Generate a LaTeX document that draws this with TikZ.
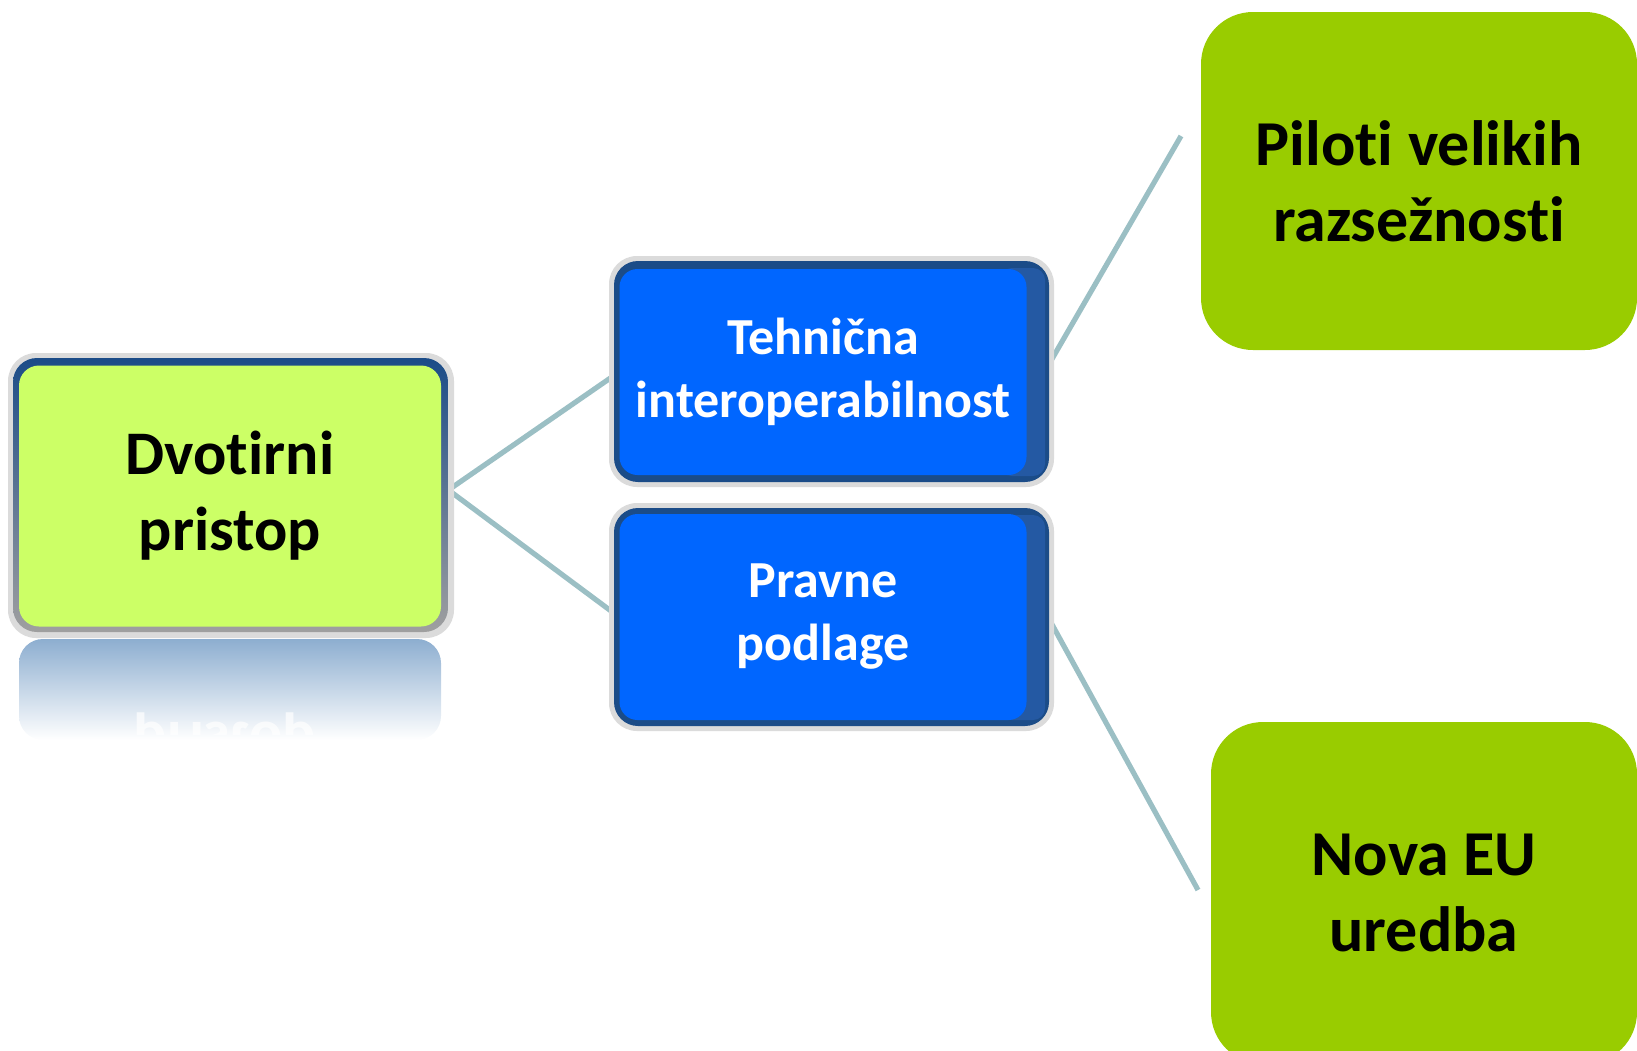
\documentclass[tikz,border=0pt]{standalone}
\usepackage{fontspec}
\setmainfont{Carlito}[Ligatures=NoCommon]
\usetikzlibrary{backgrounds}

\definecolor{limefill}{HTML}{CCFF66}
\definecolor{bluefill}{HTML}{0066FF}
\definecolor{navyframe}{HTML}{1B4C88}
\definecolor{blueband}{HTML}{2459A3}
\definecolor{greenfill}{HTML}{99CC00}
\definecolor{linegray}{HTML}{9BBFC4}
\definecolor{reflectblue}{HTML}{8DAED0}

\tikzset{
  conn/.style={line width=2.6pt, color=linegray},
  leftbox/.style={fill=limefill, rounded corners=10pt, align=center, inner sep=0pt,
    minimum width=211pt, minimum height=130.5pt, font=\fontsize{31}{38}\selectfont\bfseries},
  bluebox/.style={fill=bluefill, rounded corners=9pt, align=center, inner sep=0pt, text=white,
    minimum width=203.5pt, minimum height=103pt, font=\fontsize{26}{31.5}\selectfont\bfseries},
  greenbox/.style={fill=greenfill, rounded corners=26pt, align=center, inner sep=0pt,
    minimum height=169pt, font=\fontsize{32}{38}\selectfont\bfseries},
  glow/.style={fill=black!14, rounded corners=14pt},
}

\begin{document}
\begin{tikzpicture}[x=0.5pt,y=-0.5pt]
\useasboundingbox (0,0) rectangle (1637,1050);

% left box with frame and reflection
\fill[glow] (8,353) rectangle (454,638);
\shade[top color=navyframe, bottom color=gray!75, rounded corners=12pt] (13,358) rectangle (448,632);
\node[leftbox] (pristop) at (230,496) {Dvotirni\\pristop};
\shade[top color=reflectblue, bottom color=white, rounded corners=12pt] (19,639) rectangle (441,740);
\begin{scope}
\clip (19,639) rectangle (441,734);
\node[yscale=-1, anchor=base, text=white, opacity=0.7, font=\fontsize{31}{38}\selectfont\bfseries] (mirror) at (225,722) {pristop};
\end{scope}

% blue boxes
\fill[glow] (609,256) rectangle (1054,487);
\fill[navyframe, rounded corners=12pt] (614,261) rectangle (1049,482);
\fill[blueband, rounded corners=6pt] (1000,268) rectangle (1045,476);
\node[bluebox] (tehnicna) at (823,372) {Tehnična\\interoperabilnost};

\fill[glow] (609,503) rectangle (1054,731);
\fill[navyframe, rounded corners=12pt] (614,508) rectangle (1049,726);
\fill[blueband, rounded corners=6pt] (1000,515) rectangle (1045,720);
\node[bluebox] (pravne) at (823,617) {Pravne\\podlage};

% green boxes on the right
\node[greenbox, minimum width=218pt] (piloti) at (1419,181) {Piloti velikih\\razsežnosti};
\node[greenbox, minimum width=213pt, minimum height=171pt] (uredba) at (1424,893) {Nova EU\\uredba};

\coordinate (pilotiend) at (1181,136);
\coordinate (uredbaend) at (1198,890);

\begin{scope}[on background layer]
\draw[conn] ([xshift=3.5pt,yshift=3pt]pristop.east) -- (tehnicna.west);
\draw[conn] ([xshift=3.5pt,yshift=3pt]pristop.east) -- (pravne.west);
\draw[conn] ([xshift=10.5pt,yshift=3pt]tehnicna.east) -- (pilotiend);
\draw[conn] ([xshift=10.5pt]pravne.east) -- (uredbaend);
\end{scope}

\end{tikzpicture}
\end{document}
